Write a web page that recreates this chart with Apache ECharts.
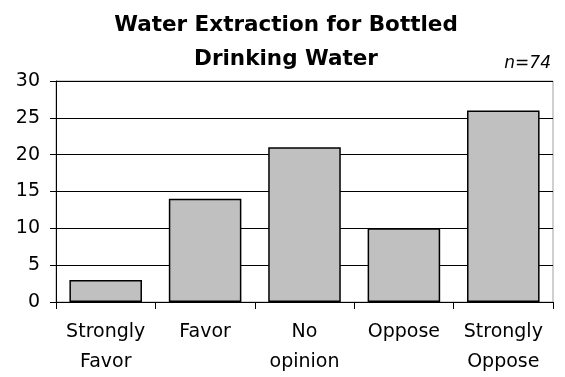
<!DOCTYPE html>
<html>
<head>
<meta charset="utf-8">
<script src="https://cdn.jsdelivr.net/npm/echarts@6/dist/echarts.min.js"></script>
<style>
  html, body { margin: 0; padding: 0; background: #fff; }
  #chart { width: 565px; height: 377px; }
</style>
</head>
<body>
<div id="chart"></div>
<script>
// Survey responses on water extraction for bottled drinking water
const categories = ['Strongly\nFavor', 'Favor', 'No\nopinion', 'Oppose', 'Strongly\nOppose'];
const counts = [3, 14, 21, 10, 26];
const yTicks = { min: 0, max: 30, interval: 5 };
const sampleNote = 'n=74';

const chart = echarts.init(document.getElementById('chart'), null, { renderer: 'canvas' });
const font = "'DejaVu Sans', sans-serif";

chart.setOption({
  animation: false,
  backgroundColor: '#ffffff',
  title: [
    {
      text: 'Water Extraction for Bottled\nDrinking Water',
      left: 281, top: 3, textAlign: 'center',
      textStyle: { fontFamily: font, fontSize: 21.5, fontWeight: 'bold', color: '#000', lineHeight: 34 }
    },
    {
      text: sampleNote,
      right: 9, top: 50,
      textStyle: { fontFamily: font, fontSize: 17, fontStyle: 'italic', fontWeight: 'normal', color: '#000' }
    }
  ],
  grid: { left: 56, right: 12, top: 81, bottom: 74, show: true, borderColor: '#a0a0a0', borderWidth: 1 },
  xAxis: {
    type: 'category',
    data: categories,
    axisLine: { lineStyle: { color: '#000', width: 1 } },
    axisTick: { show: true, length: 7, lineStyle: { color: '#000' } },
    axisLabel: { interval: 0, hideOverlap: false, fontFamily: font, fontSize: 19, color: '#000', margin: 15, lineHeight: 30 }
  },
  yAxis: {
    type: 'value',
    min: yTicks.min, max: yTicks.max, interval: yTicks.interval,
    axisLine: { show: true, lineStyle: { color: '#000', width: 1 } },
    axisTick: { show: true, length: 6, lineStyle: { color: '#000' } },
    splitLine: { lineStyle: { color: '#000', width: 1 } },
    axisLabel: { fontFamily: font, fontSize: 19, color: '#000', margin: 16 }
  },
  series: [{
    type: 'bar',
    data: counts,
    barCategoryGap: '27%',
    itemStyle: { color: '#c0c0c0', borderColor: '#000', borderWidth: 1.5 }
  }]
});
</script>
</body>
</html>
